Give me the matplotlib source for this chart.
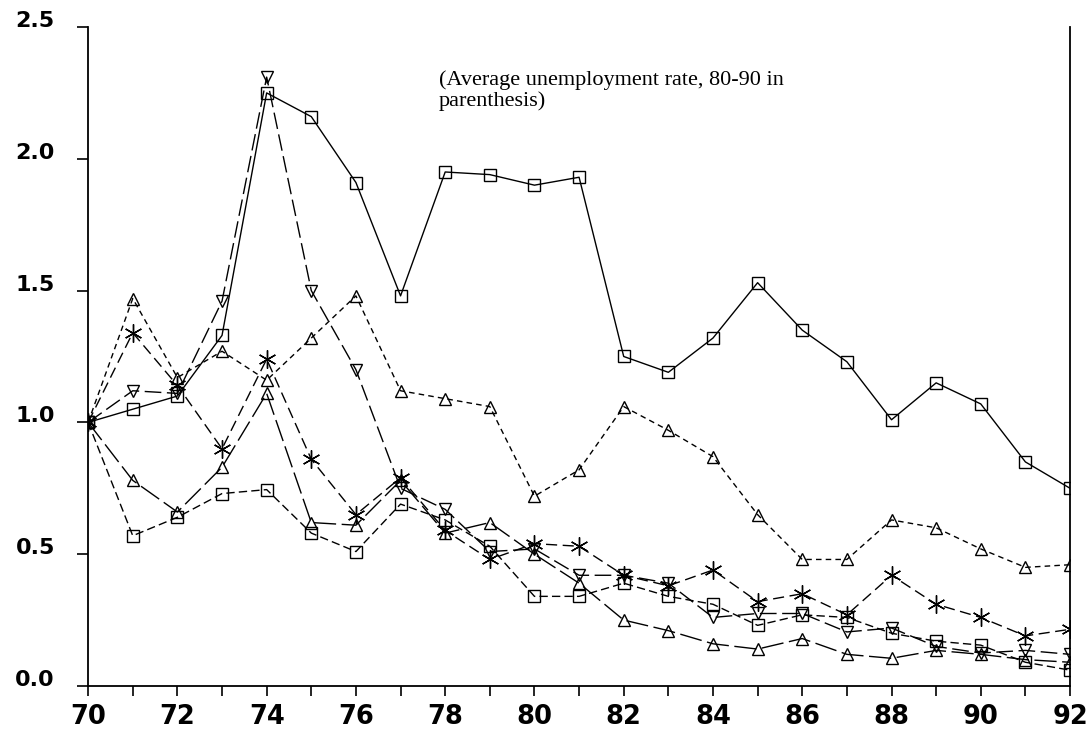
import matplotlib
matplotlib.use("Agg")
import matplotlib.pyplot as plt
import numpy as np

years = list(range(70, 93))

# solid line, squares (top series)
series_a = [1.00, 1.05, 1.10, 1.33, 2.25, 2.16, 1.91, 1.48, 1.95, 1.94, 1.90, 1.93,
            1.25, 1.19, 1.32, 1.53, 1.35, 1.23, 1.01, 1.15, 1.07, 0.85, 0.75]
# short dashes, triangles up
series_b = [1.00, 1.47, 1.17, 1.27, 1.16, 1.32, 1.48, 1.12, 1.09, 1.06, 0.72, 0.82,
            1.06, 0.97, 0.87, 0.65, 0.48, 0.48, 0.63, 0.60, 0.52, 0.45, 0.46]
# dashed, stars
series_c = [1.00, 1.34, 1.14, 0.90, 1.24, 0.86, 0.65, 0.79, 0.59, 0.48, 0.54, 0.53,
            0.42, 0.38, 0.44, 0.32, 0.35, 0.27, 0.42, 0.31, 0.26, 0.19, 0.215]
# long dashes, triangles down
series_d = [1.00, 1.12, 1.11, 1.46, 2.31, 1.50, 1.20, 0.75, 0.67, 0.51, 0.52, 0.42,
            0.42, 0.39, 0.26, 0.275, 0.275, 0.205, 0.22, 0.15, 0.125, 0.135, 0.12]
# dashed, squares (lower)
series_e = [1.00, 0.57, 0.64, 0.73, 0.745, 0.58, 0.51, 0.69, 0.63, 0.53, 0.34, 0.34,
            0.39, 0.34, 0.31, 0.23, 0.27, 0.26, 0.20, 0.17, 0.155, 0.09, 0.06]
# long dashes, triangles up (lowest)
series_f = [1.00, 0.78, 0.66, 0.83, 1.11, 0.62, 0.61, 0.78, 0.58, 0.62, 0.50, 0.39,
            0.25, 0.21, 0.16, 0.14, 0.18, 0.12, 0.105, 0.135, 0.12, 0.10, 0.09]

note = "(Average unemployment rate, 80-90 in\nparenthesis)"

fig = plt.figure(figsize=(10.88, 7.40), dpi=100)
ax = fig.add_axes([0.081, 0.073, 0.9025, 0.8905])

styles = [
    (series_a, "-", "s"),
    (series_b, (0, (4, 3)), "^"),
    (series_c, (0, (8, 4)), (6, 2, 0)),
    (series_d, (0, (12, 4)), "v"),
    (series_e, (0, (6, 3)), "s"),
    (series_f, (0, (16, 4)), "^"),
]
for vals, ls, mk in styles:
    ms = 13 if mk == (6, 2, 0) else 8
    ax.plot(years, vals, color="black", linestyle=ls, linewidth=1.0,
            marker=mk, markersize=ms, markerfacecolor="none",
            markeredgecolor="black", markeredgewidth=1.0)

ax.text(77.86, 2.335, note, family="Liberation Serif", fontsize=16,
        ha="left", va="top", linespacing=1.05)

ax.set_xlim(70, 92)
ax.set_ylim(0, 2.5)
ax.set_xticks(range(70, 93, 2))
ax.set_xticks(range(70, 93), minor=True)
ax.set_yticks([0, 0.5, 1.0, 1.5, 2.0, 2.5])
ax.set_yticklabels(["0.0", "0.5", "1.0", "1.5", "2.0", "2.5"])
for lab in ax.get_xticklabels():
    lab.set_fontweight("bold")
    lab.set_fontsize(18.5)
for lab in ax.get_yticklabels():
    lab.set_fontweight("bold")
    lab.set_fontsize(16)
    lab.set_verticalalignment("baseline")

ax.tick_params(axis="x", which="both", direction="out", length=7, width=1.2, pad=6)
ax.tick_params(axis="y", direction="out", length=8, width=1.2, pad=16)
ax.spines["top"].set_visible(False)
for s in ["left", "bottom", "right"]:
    ax.spines[s].set_linewidth(1.3)

fig.savefig("out.png", dpi=100)
